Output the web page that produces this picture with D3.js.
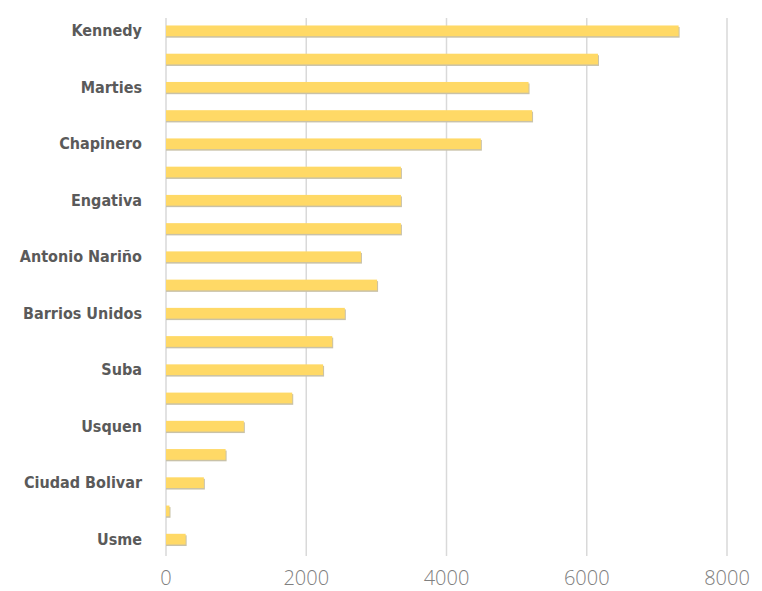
<!DOCTYPE html>
<html>
<head>
<meta charset="utf-8">
<script src="https://d3js.org/d3.v7.min.js"></script>
<style>
  body { margin: 0; background: #fff; }
</style>
</head>
<body>
<script>
// localidades, top to bottom (only every other one carries a label)
const names = ['Kennedy', 'k2', 'Marties', 'm2', 'Chapinero', 'c2', 'Engativa', 'e2',
  'Antonio Nariño', 'a2', 'Barrios Unidos', 'b2', 'Suba', 's2', 'Usquen', 'u2',
  'Ciudad Bolivar', 'cb2', 'Usme'];
const labels = ['Kennedy', '', 'Marties', '', 'Chapinero', '', 'Engativa', '',
  'Antonio Nariño', '', 'Barrios Unidos', '', 'Suba', '', 'Usquen', '',
  'Ciudad Bolivar', '', 'Usme'];
const values = [7310, 6160, 5170, 5220, 4490, 3350, 3350, 3350, 2780, 3010,
  2550, 2370, 2240, 1800, 1110, 850, 540, 50, 280];
const ticks = [0, 2000, 4000, 6000, 8000];

const W = 762, H = 591;
const svg = d3.select('body').append('svg').attr('width', W).attr('height', H);

const x = d3.scaleLinear().domain([0, 8000]).range([166, 727]);
const y = d3.scaleBand().domain(names).range([17, 553]).paddingInner(0.62).paddingOuter(0.3);

// gridlines
svg.append('g').selectAll('line')
  .data(ticks)
  .enter().append('line')
  .attr('x1', d => x(d)).attr('x2', d => x(d))
  .attr('y1', 18).attr('y2', 556)
  .attr('stroke', '#d9d9d9').attr('stroke-width', 1.5);

// bars with a soft shadow edge
svg.append('g').selectAll('rect.sh')
  .data(values)
  .enter().append('rect')
  .attr('x', x(0)).attr('y', (d, i) => y(names[i]) + 1.5)
  .attr('width', d => x(d) - x(0) + 1)
  .attr('height', y.bandwidth())
  .attr('fill', '#c9c2a8');

svg.append('g').selectAll('rect.bar')
  .data(values)
  .enter().append('rect')
  .attr('x', x(0)).attr('y', (d, i) => y(names[i]))
  .attr('width', d => x(d) - x(0))
  .attr('height', y.bandwidth())
  .attr('fill', '#ffd966');

// category labels
svg.append('g').selectAll('text')
  .data(labels)
  .enter().append('text')
  .attr('x', 142)
  .attr('y', (d, i) => y(names[i]) + y.bandwidth() / 2)
  .attr('dy', '0.35em')
  .attr('text-anchor', 'end')
  .style('font-family', '"DejaVu Sans Condensed", sans-serif')
  .style('font-weight', 'bold')
  .style('font-size', '16px')
  .style('fill', '#5a5a5a')
  .text(d => d);

// x tick labels
svg.append('g').selectAll('text')
  .data(ticks)
  .enter().append('text')
  .attr('x', d => x(d))
  .attr('y', 585)
  .attr('text-anchor', 'middle')
  .style('font-family', '"Open Sans", sans-serif')
  .style('font-weight', '300')
  .style('font-size', '20px')
  .style('fill', '#808080')
  .text(d => d);
</script>
</body>
</html>
